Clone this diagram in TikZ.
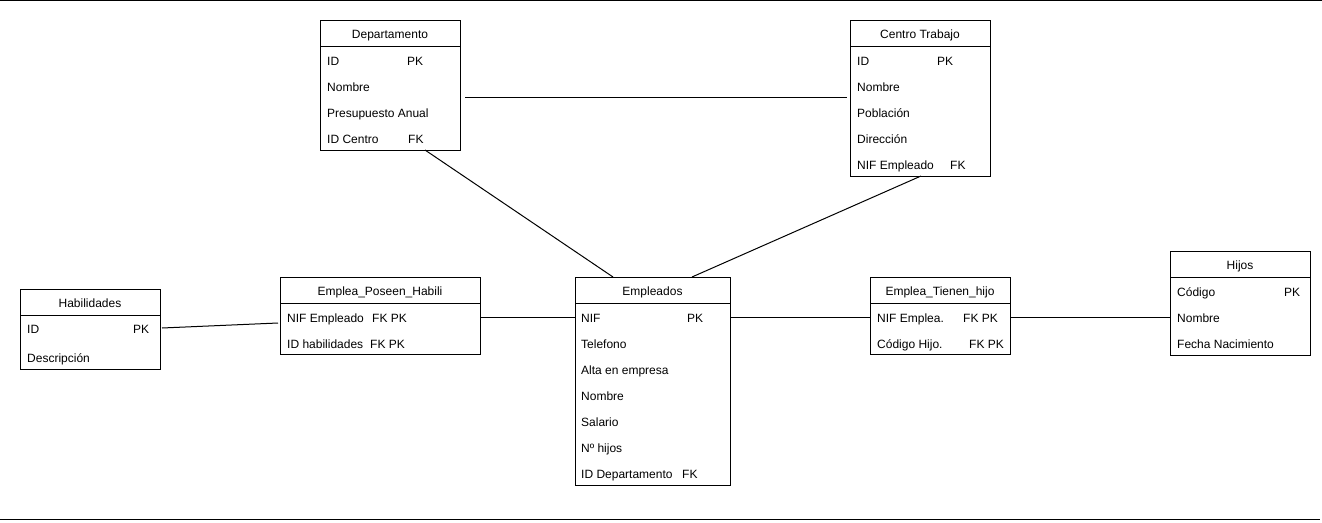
\documentclass[tikz,border=0pt]{standalone}
\usepackage{fontspec}
\setmainfont{Liberation Sans}
\usetikzlibrary{calc}
\begin{document}
\begin{tikzpicture}[x=1pt,y=-1pt,
  tbl/.style={draw,line width=1pt,anchor=north west,inner sep=0pt,outer sep=0pt},
  cell/.style={anchor=base west,inner sep=0pt,yshift=-1pt,font=\fontsize{12}{14}\selectfont},
  head/.style={anchor=base,inner sep=0pt,yshift=-1pt,font=\fontsize{12}{14}\selectfont},
  hrule/.style={line width=1pt},
  link/.style={line width=1pt},
  frame/.style={line width=1.3pt}]
\useasboundingbox (0,0) rectangle (1322,522);

% page rules
\coordinate (t1) at (0,0.6);
\coordinate (t2) at (1322,0.6);
\coordinate (b1) at (0,519.5);
\coordinate (b2) at (1320,519.5);
\draw[frame] (t1) -- (t2);
\draw[frame] (b1) -- (b2);

% ---------- Departamento ----------
\node[tbl,minimum width=140pt,minimum height=130pt] (dep) at (320,20) {};
\draw[hrule] ($(dep.north west)+(0,26)$) -- ($(dep.north east)+(0,26)$);
\node[head] (deph) at ($(dep.north)+(0,17.5)$) {Departamento};
\node[cell] (dep1) at (327,64.5) {ID};
\node[cell] (dep1k) at (407,64.5) {PK};
\node[cell] (dep2) at (327,90.5) {Nombre};
\node[cell] (dep3) at (327,116.5) {Presupuesto Anual};
\node[cell] (dep4) at (327,142.5) {ID Centro};
\node[cell] (dep4k) at (408,142.5) {FK};

% ---------- Centro Trabajo ----------
\node[tbl,minimum width=140pt,minimum height=156pt] (ctr) at (850,20) {};
\draw[hrule] ($(ctr.north west)+(0,26)$) -- ($(ctr.north east)+(0,26)$);
\node[head] (ctrh) at ($(ctr.north)+(0,17.5)$) {Centro Trabajo};
\node[cell] (ctr1) at (857,64.5) {ID};
\node[cell] (ctr1k) at (937,64.5) {PK};
\node[cell] (ctr2) at (857,90.5) {Nombre};
\node[cell] (ctr3) at (857,116.5) {Población};
\node[cell] (ctr4) at (857,142.5) {Dirección};
\node[cell] (ctr5) at (857,168.5) {NIF Empleado};
\node[cell] (ctr5k) at (950,168.5) {FK};

% ---------- Habilidades ----------
\node[tbl,minimum width=140pt,minimum height=80pt] (hab) at (20,289) {};
\draw[hrule] ($(hab.north west)+(0,26)$) -- ($(hab.north east)+(0,26)$);
\node[head] (habh) at ($(hab.north)+(0,17.5)$) {Habilidades};
\node[cell] (hab1) at (27,332.5) {ID};
\node[cell] (hab1k) at (133,332.5) {PK};
\node[cell] (hab2) at (27,361.5) {Descripción};

% ---------- Emplea_Poseen_Habili ----------
\node[tbl,minimum width=200pt,minimum height=77pt] (eph) at (280,277) {};
\draw[hrule] ($(eph.north west)+(0,26)$) -- ($(eph.north east)+(0,26)$);
\node[head] (ephh) at ($(eph.north)+(0,17.5)$) {Emplea\_Poseen\_Habili};
\node[cell] (eph1) at (287,321.5) {NIF Empleado};
\node[cell] (eph1k) at (372,321.5) {FK PK};
\node[cell] (eph2) at (287,347.5) {ID habilidades};
\node[cell] (eph2k) at (370,347.5) {FK PK};

% ---------- Empleados ----------
\node[tbl,minimum width=155pt,minimum height=208pt] (emp) at (575,277) {};
\draw[hrule] ($(emp.north west)+(0,26)$) -- ($(emp.north east)+(0,26)$);
\node[head] (emph) at ($(emp.north)+(0,17.5)$) {Empleados};
\node[cell] (emp1) at (581,321.5) {NIF};
\node[cell] (emp1k) at (687,321.5) {PK};
\node[cell] (emp2) at (581,347.5) {Telefono};
\node[cell] (emp3) at (581,373.5) {Alta en empresa};
\node[cell] (emp4) at (581,399.5) {Nombre};
\node[cell] (emp5) at (581,425.5) {Salario};
\node[cell] (emp6) at (581,451.5) {Nº hijos};
\node[cell] (emp7) at (581,477.5) {ID Departamento};
\node[cell] (emp7k) at (682,477.5) {FK};

% ---------- Emplea_Tienen_hijo ----------
\node[tbl,minimum width=140pt,minimum height=77pt] (eth) at (870,277) {};
\draw[hrule] ($(eth.north west)+(0,26)$) -- ($(eth.north east)+(0,26)$);
\node[head] (ethh) at ($(eth.north)+(0,17.5)$) {Emplea\_Tienen\_hijo};
\node[cell] (eth1) at (877,321.5) {NIF Emplea.};
\node[cell] (eth1k) at (963,321.5) {FK PK};
\node[cell] (eth2) at (877,347.5) {Código Hijo.};
\node[cell] (eth2k) at (969,347.5) {FK PK};

% ---------- Hijos ----------
\node[tbl,minimum width=140pt,minimum height=104pt] (hij) at (1170,251) {};
\draw[hrule] ($(hij.north west)+(0,26)$) -- ($(hij.north east)+(0,26)$);
\node[head] (hijh) at ($(hij.north)+(0,17.5)$) {Hijos};
\node[cell] (hij1) at (1177,295.5) {Código};
\node[cell] (hij1k) at (1284,295.5) {PK};
\node[cell] (hij2) at (1177,321.5) {Nombre};
\node[cell] (hij3) at (1177,347.5) {Fecha Nacimiento};

% ---------- relationships ----------
\coordinate (depA) at ($(dep.north east)+(5,77)$);
\coordinate (ctrA) at ($(ctr.north west)+(-3,77)$);
\draw[link] (depA) -- (ctrA);

\coordinate (depB) at ($(dep.south west)+(105,0)$);
\coordinate (empA) at ($(emp.north west)+(38,0)$);
\draw[link] (depB) -- (empA);

\coordinate (ctrB) at ($(ctr.south west)+(71,0)$);
\coordinate (empB) at ($(emp.north west)+(117,0)$);
\draw[link] (ctrB) -- (empB);

\coordinate (habA) at ($(hab.north east)+(2,39)$);
\coordinate (ephA) at ($(eph.north west)+(-2,46)$);
\draw[link] (habA) -- (ephA);

\coordinate (ephB) at ($(eph.north east)+(0,40)$);
\coordinate (empC) at ($(emp.north west)+(0,40)$);
\draw[link] (ephB) -- (empC);

\coordinate (empD) at ($(emp.north east)+(0,40)$);
\coordinate (ethA) at ($(eth.north west)+(0,40)$);
\draw[link] (empD) -- (ethA);

\coordinate (ethB) at ($(eth.north east)+(0,40)$);
\coordinate (hijA) at ($(hij.north west)+(0,66)$);
\draw[link] (ethB) -- (hijA);
\end{tikzpicture}
\end{document}
